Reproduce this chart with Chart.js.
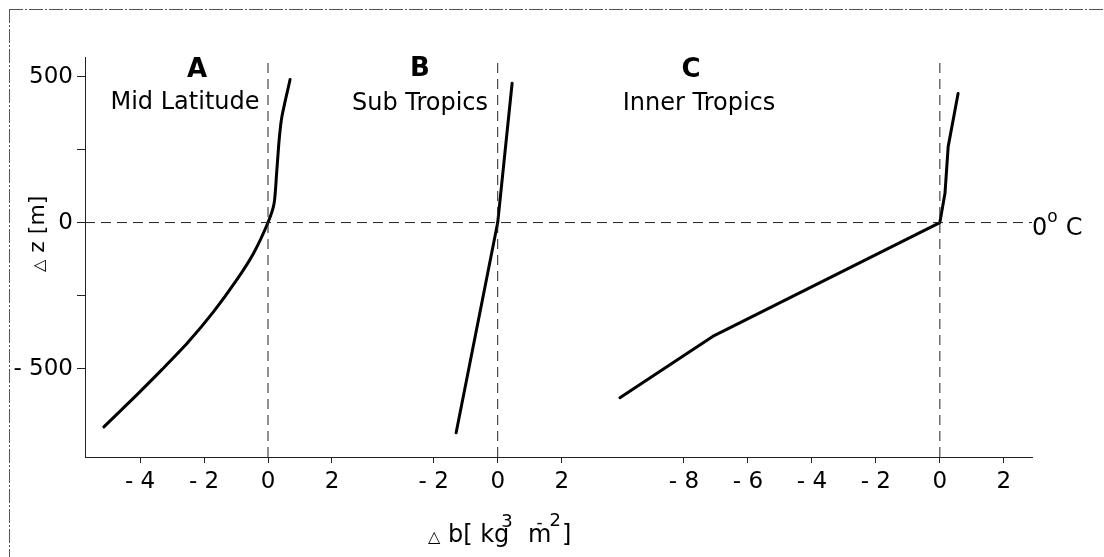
<!DOCTYPE html>
<html>
<head>
<meta charset="utf-8">
<script src="https://cdn.jsdelivr.net/npm/chart.js@4.4.1/dist/chart.umd.min.js"></script>
<style>
    html, body { margin: 0; padding: 0; background: #fff; }
    #wrap { width: 1104px; height: 557px; }
</style>
</head>
<body>
<div id="wrap"><canvas id="chart" width="1104" height="557"></canvas></div>
<script>
// ======================================
// Data
// ======================================

const panelNames = ["A", "B", "C"];
const panelTitles = ["Mid Latitude", "Sub Tropics", "Inner Tropics"];

// A - mid latitude
const bMid = [-5.13, -4.1, -3.3, -2.5, -1.7, -1.0, -0.45, 0, 0.19, 0.27, 0.35, 0.43, 0.69];
const zMid = [-700, -590, -502, -410, -305, -200, -105, 0, 65, 170, 285, 360, 490];

// B - sub tropics
const bSub = [-1.3, 0, 0.45];
const zSub = [-720, 0, 477];

// C - inner tropics
const bInner = [-10, -7.1, 0, 0.16, 0.26, 0.57];
const zInner = [-600, -390, 0, 100, 260, 442];

// tick labels of each panel
const tickMid = [-4, -2, 0, 2];
const tickSub = [-2, 0, 2];
const tickInner = [-8, -6, -4, -2, 0, 2];
const zTicks = [-500, -250, 0, 250, 500];
const zTickLabels = ["- 500", "", "0", "", "500"];

// ======================================
// Layout of the three panels on one x axis (b units)
// ======================================

const panelZero = [5.72, 12.9, 26.72];
const xMax = 29.6;
const zMin = -803;
const zMax = 567;

const font = "'DejaVu Sans', sans-serif";
const ink = "#000000";
const dashInk = "#222222";

function toPoints(b, z, offset) {
    return b.map((v, i) => ({ x: offset + v, y: z[i] }));
}

function fmt(v) {
    return v < 0 ? "- " + Math.abs(v) : String(v);
}

const xTickValues = [];
const xTickLabels = [];
[tickMid, tickSub, tickInner].forEach((list, p) => {
    list.forEach(v => {
        xTickValues.push(panelZero[p] + v);
        xTickLabels.push(fmt(v));
    });
});

const curve = (data, tension) => ({
    data: data,
    showLine: true,
    borderColor: ink,
    borderWidth: 3,
    pointRadius: 0,
    tension: tension,
    borderCapStyle: "round",
    borderJoinStyle: "round"
});

const guide = (data) => ({
    data: data,
    showLine: true,
    borderColor: dashInk,
    borderWidth: 1,
    borderDash: [10, 6],
    pointRadius: 0
});

const datasets = [
    guide([{ x: 0, y: 0 }, { x: xMax, y: 0 }]),
    ...panelZero.map(x0 => guide([{ x: x0, y: zMin }, { x: x0, y: zMax }])),
    curve(toPoints(bMid, zMid, panelZero[0]), 0.25),
    curve(toPoints(bSub, zSub, panelZero[1]), 0),
    curve(toPoints(bInner, zInner, panelZero[2]), 0)
];

// ======================================
// Text plugin (panel labels, axis titles)
// ======================================

function drawPieces(c, pieces, x, y) {
    let cx = x;
    pieces.forEach(p => {
        c.font = (p.bold ? "bold " : "") + p.size + "px " + font;
        cx += p.dx || 0;
        c.fillText(p.t, cx, y - (p.rise || 0));
        cx += c.measureText(p.t).width;
    });
}

const textPlugin = {
    id: "panelText",
    afterDraw(chart) {
        const c = chart.ctx;
        c.save();
        c.fillStyle = ink;

        // scan frame
        c.strokeStyle = "#555555";
        c.lineWidth = 1;
        c.setLineDash([14, 2, 2, 2]);
        c.beginPath();
        c.moveTo(9, 9.5);
        c.lineTo(1104, 9.5);
        c.moveTo(9.5, 9);
        c.lineTo(9.5, 557);
        c.stroke();
        c.setLineDash([]);

        // panel labels
        const letterPos = [[197, 70], [420, 69], [691, 70]];
        const titlePos = [[185, 103], [420, 104], [699, 104]];
        c.textAlign = "center";
        c.textBaseline = "middle";
        panelNames.forEach((n, i) => {
            c.font = "bold 26px " + font;
            c.fillText(n, letterPos[i][0], letterPos[i][1]);
            c.font = "24px " + font;
            c.fillText(panelTitles[i], titlePos[i][0], titlePos[i][1]);
        });

        // 0 deg C marker
        c.textAlign = "left";
        c.textBaseline = "alphabetic";
        drawPieces(c, [
            { t: "0", size: 24 },
            { t: "o", size: 17, rise: 13, dx: 0 },
            { t: "C", size: 24, dx: 8 }
        ], 1032, 235);

        // x axis title
        drawPieces(c, [
            { t: "\u25B3", size: 16 },
            { t: " b[ kg", size: 24 },
            { t: "3", size: 18, rise: 15, dx: -8 },
            { t: "  m", size: 24 },
            { t: "-", size: 17, rise: 14, dx: -15 },
            { t: "2", size: 18, rise: 16, dx: 7 },
            { t: "]", size: 24, dx: 1 }
        ], 428, 542);

        // y axis title
        c.translate(44, 272);
        c.rotate(-Math.PI / 2);
        drawPieces(c, [
            { t: "\u25B3", size: 16 },
            { t: " z [m]", size: 22 }
        ], 0, 0);

        c.restore();
    }
};

// ======================================
// Chart
// ======================================

new Chart(document.getElementById("chart"), {
    type: "scatter",
    data: { datasets: datasets },
    options: {
        responsive: false,
        animation: false,
        layout: { padding: { left: 0, right: 72, top: 57, bottom: 0 } },
        plugins: {
            legend: { display: false },
            tooltip: { enabled: false }
        },
        scales: {
            x: {
                type: "linear",
                min: 0,
                max: xMax,
                bounds: "data",
                afterFit: s => { s.height = 100; },
                afterBuildTicks: s => {
                    s.ticks = xTickValues.map(v => ({ value: v }));
                },
                ticks: {
                    autoSkip: false,
                    maxRotation: 0,
                    padding: 5,
                    color: ink,
                    font: { family: font, size: 23 },
                    callback: (value, index) => xTickLabels[index]
                },
                grid: {
                    drawOnChartArea: false,
                    drawTicks: true,
                    tickLength: 6,
                    color: dashInk
                },
                border: { display: true, color: dashInk, width: 1, dash: [10, 3, 2, 3] }
            },
            y: {
                type: "linear",
                min: zMin,
                max: zMax,
                bounds: "data",
                afterFit: s => { s.width = 85; },
                afterBuildTicks: s => {
                    s.ticks = zTicks.map(v => ({ value: v }));
                },
                ticks: {
                    autoSkip: false,
                    padding: 4,
                    color: ink,
                    font: { family: font, size: 23 },
                    callback: (value, index) => zTickLabels[index]
                },
                grid: {
                    drawOnChartArea: false,
                    drawTicks: true,
                    tickLength: 8,
                    color: dashInk
                },
                border: { display: true, color: dashInk, width: 1, dash: [10, 3, 2, 3] }
            }
        }
    },
    plugins: [textPlugin]
});
</script>
</body>
</html>
